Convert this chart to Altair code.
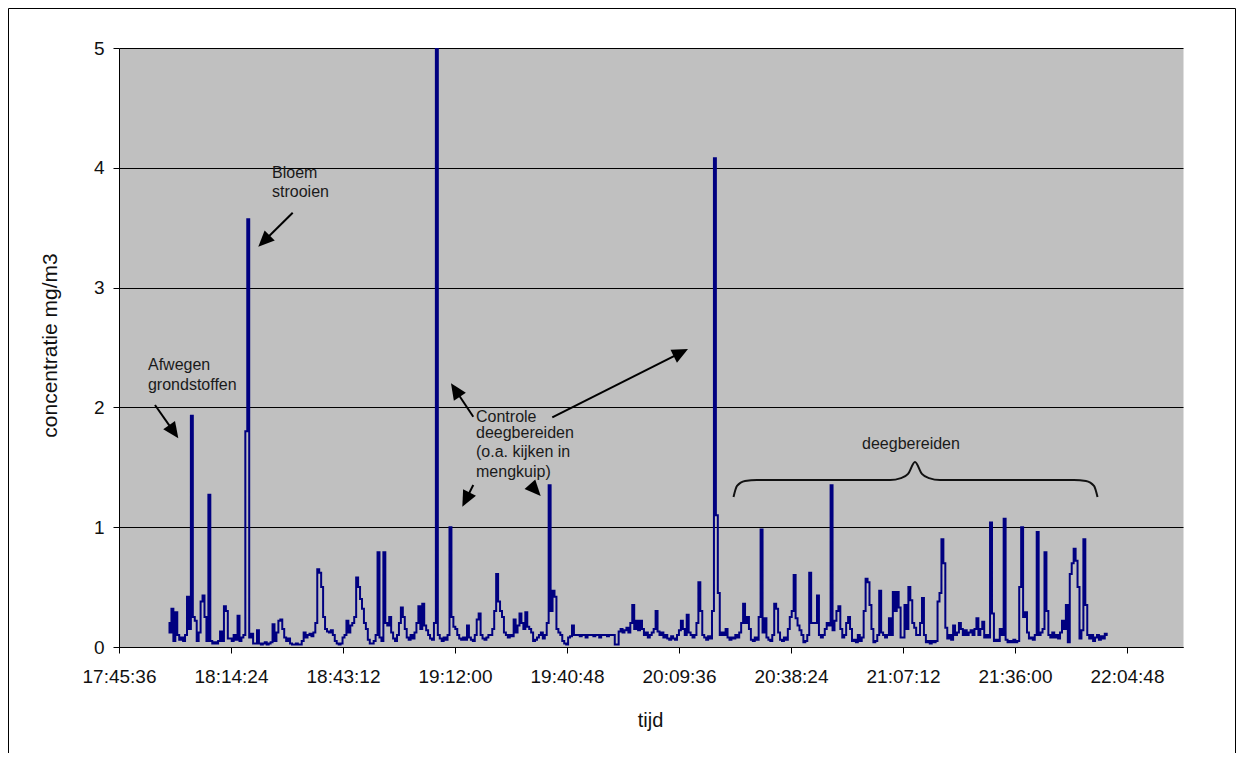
import math
import altair as alt
import pandas as pd

# ---------------- data (concentratie mg/m3, one reading every 30 s) ----------------
SAMPLE_START_S = 17 * 3600 + 58 * 60 + 20   # 17:58:20
SAMPLE_STEP_S = 30

conc_1758 = [0.2, 0.12, 0.32, 0.05, 0.29, 0.1, 0.06, 0.08, 0.05, 0.1, 0.42, 0.15, 1.93, 0.25, 0.22, 0.05, 0.12, 0.38, 0.43, 0.25,
             0.05, 1.27, 0.05, 0.03, 0.04, 0.03, 0.05, 0.13, 0.05, 0.34, 0.3, 0.07, 0.07, 0.05, 0.1, 0.06, 0.26, 0.05, 0.08, 0.1,
             1.8, 3.57, 0.08, 0.11, 0.03, 0.03, 0.14, 0.03, 0.02, 0.03, 0.04, 0.02, 0.03, 0.04, 0.19, 0.05, 0.12, 0.22, 0.23, 0.15,
             0.08, 0.05, 0.07, 0.03, 0.02, 0.02, 0.03, 0.02, 0.02, 0.05, 0.12, 0.08, 0.1, 0.11, 0.09, 0.12, 0.2, 0.65, 0.62, 0.5,
             0.25, 0.15, 0.13, 0.12, 0.14, 0.1, 0.05, 0.03, 0.02, 0.03, 0.08, 0.1, 0.22, 0.12, 0.18, 0.2, 0.25, 0.58, 0.5, 0.4,
             0.32, 0.2, 0.15, 0.06, 0.03, 0.03, 0.05, 0.1, 0.79, 0.08, 0.05, 0.79, 0.2, 0.18, 0.25, 0.12, 0.07, 0.05, 0.1, 0.2]
conc_1858 = [0.33, 0.25, 0.15, 0.08, 0.06, 0.1, 0.07, 0.12, 0.2, 0.34, 0.15, 0.36, 0.18, 0.14, 0.1, 0.07, 0.06, 0.2, 5.0, 0.1,
             0.07, 0.05, 0.08, 0.06, 0.1, 1.0, 0.25, 0.17, 0.15, 0.1, 0.07, 0.06, 0.08, 0.06, 0.18, 0.08, 0.06, 0.05, 0.1, 0.23,
             0.28, 0.1, 0.07, 0.06, 0.08, 0.1, 0.1, 0.15, 0.3, 0.61, 0.38, 0.3, 0.25, 0.12, 0.1, 0.08, 0.1, 0.09, 0.23, 0.12,
             0.18, 0.28, 0.2, 0.15, 0.29, 0.17, 0.15, 0.12, 0.05, 0.06, 0.08, 0.1, 0.12, 0.07, 0.1, 0.2, 1.35, 0.3, 0.47, 0.42,
             0.15, 0.12, 0.1, 0.05, 0.03, 0.02, 0.08, 0.09, 0.18, 0.1, 0.1, 0.1, 0.09, 0.1, 0.1, 0.08, 0.1, 0.1, 0.1, 0.09,
             0.1, 0.1, 0.08, 0.1, 0.1, 0.1, 0.09, 0.1, 0.1, 0.1, 0.02, 0.02, 0.13, 0.15, 0.12, 0.14, 0.16, 0.12, 0.2, 0.35]
conc_1958 = [0.15, 0.22, 0.14, 0.22, 0.15, 0.1, 0.12, 0.08, 0.1, 0.12, 0.15, 0.3, 0.13, 0.1, 0.12, 0.08, 0.1, 0.07, 0.06, 0.09,
             0.07, 0.06, 0.1, 0.14, 0.22, 0.15, 0.1, 0.27, 0.12, 0.1, 0.08, 0.1, 0.2, 0.54, 0.3, 0.1, 0.08, 0.06, 0.09, 0.07,
             0.3, 4.08, 1.1, 0.45, 0.1, 0.12, 0.1, 0.15, 0.08, 0.06, 0.08, 0.07, 0.1, 0.08, 0.12, 0.2, 0.36, 0.2, 0.25, 0.15,
             0.06, 0.05, 0.08, 0.06, 0.25, 0.98, 0.12, 0.24, 0.08, 0.06, 0.05, 0.1, 0.36, 0.32, 0.12, 0.06, 0.05, 0.08, 0.06, 0.15,
             0.25, 0.3, 0.6, 0.24, 0.18, 0.14, 0.1, 0.04, 0.05, 0.1, 0.62, 0.2, 0.2, 0.2, 0.43, 0.1, 0.08, 0.1, 0.15, 0.2,
             0.18, 1.35, 0.14, 0.22, 0.3, 0.34, 0.15, 0.08, 0.1, 0.2, 0.25, 0.15, 0.05, 0.06, 0.04, 0.1, 0.05, 0.08, 0.3, 0.57]
conc_2058 = [0.54, 0.35, 0.15, 0.04, 0.05, 0.1, 0.47, 0.12, 0.1, 0.08, 0.1, 0.24, 0.1, 0.46, 0.3, 0.46, 0.33, 0.08, 0.08, 0.35,
             0.15, 0.5, 0.39, 0.2, 0.16, 0.1, 0.1, 0.2, 0.41, 0.1, 0.04, 0.05, 0.03, 0.05, 0.04, 0.05, 0.38, 0.45, 0.9, 0.7,
             0.16, 0.07, 0.1, 0.06, 0.18, 0.1, 0.12, 0.2, 0.15, 0.1, 0.14, 0.1, 0.12, 0.14, 0.1, 0.15, 0.24, 0.1, 0.15, 0.21,
             0.08, 0.1, 0.08, 1.04, 0.28, 0.05, 0.06, 0.05, 0.15, 0.1, 1.07, 0.06, 0.04, 0.05, 0.04, 0.06, 0.04, 0.05, 0.5, 1.0,
             0.25, 0.29, 0.12, 0.07, 0.08, 0.06, 0.1, 0.96, 0.1, 0.12, 0.15, 0.79, 0.3, 0.1, 0.08, 0.12, 0.08, 0.1, 0.07, 0.12,
             0.22, 0.15, 0.35, 0.04, 0.61, 0.7, 0.82, 0.72, 0.5, 0.07, 0.14, 0.9, 0.35, 0.1, 0.07, 0.1, 0.05, 0.08, 0.1, 0.06,
             0.09, 0.07, 0.11, 0.1]

# axis: 17:45:36 .. 22:19:12, ticks every 28:48
X_MIN_S = 63936
X_MAX_S = 80352
X_TICKS_S = [63936, 65664, 67392, 69120, 70848, 72576, 74304, 76032, 77760, 79488]
Y_TICKS = [0, 1, 2, 3, 4, 5]

# annotations (time in s, concentration)
text_left = [
    ("Bloem", 66297, 3.915), ("strooien", 66297, 3.756),
    ("Afwegen", 64383, 2.316), ("grondstoffen", 64383, 2.149),
    ("Controle", 69444, 1.882), ("deegbereiden", 69444, 1.745),
    ("(o.a. kijken in", 69444, 1.582), ("mengkuip)", 69444, 1.423),
]
text_center = [("deegbereiden", 76155, 1.649)]

# arrows: start (t, v) -> tip (t, v), draw shaft?
arrows = [
    (64491, 2.02, 64851, 1.742, True),
    (66616, 3.625, 66085, 3.341, True),
    (69402, 1.922, 69058, 2.201, True),
    (70621, 1.917, 72715, 2.487, True),
    (69402, 1.352, 69233, 1.171, True),
    (70282, 1.355, 70442, 1.26, False),
]

brace_t = [73417, 73471, 73594, 73779, 75831, 76000, 76110, 76217, 76324, 76434, 76603, 78670, 78855, 78979, 79033]
brace_v = [1.252, 1.344, 1.386, 1.394, 1.394, 1.410, 1.445, 1.544, 1.445, 1.410, 1.394, 1.394, 1.386, 1.344, 1.252]

# ---------------- build ----------------
W, H = 1064, 599
FONT = "Liberation Sans"
values = conc_1758 + conc_1858 + conc_1958 + conc_2058
df = pd.DataFrame({"t": [SAMPLE_START_S + SAMPLE_STEP_S * i for i in range(len(values))], "c": values})

xscale = alt.Scale(domain=[X_MIN_S, X_MAX_S], nice=False, zero=False)
yscale = alt.Scale(domain=[0, 5], nice=False)

px_s = W / (X_MAX_S - X_MIN_S)
px_u = H / 5.0

shafts, heads = [], []
HEAD_LEN = 16
for t0, v0, t1, v1, shaft in arrows:
    dx = (t1 - t0) * px_s
    dy = -(v1 - v0) * px_u
    ang = math.degrees(math.atan2(dx, -dy)) % 360
    heads.append({"t": t1, "v": v1, "a": ang})
    if shaft:
        L = math.hypot(dx, dy)
        k = (L - HEAD_LEN * 0.6) / L
        shafts.append({"t": t0, "v": v0, "t2": t0 + (t1 - t0) * k, "v2": v0 + (v1 - v0) * k})

x_axis = alt.Axis(values=X_TICKS_S, labelExpr="utcFormat(datum.value * 1000, '%H:%M:%S')",
                  title="tijd", grid=False, tickSize=6, tickColor="black", domainColor="black",
                  labelFont=FONT, labelFontSize=19, labelColor="#111111", labelPadding=14,
                  labelFlush=False, labelOverlap=False, labelBound=False,
                  titleFont=FONT, titleFontSize=20, titleFontWeight="normal", titleColor="#111111",
                  titleX=531, titleY=73, titleBaseline="middle")
y_axis = alt.Axis(values=Y_TICKS, format="d", title="concentratie mg/m3", grid=True,
                  gridColor="black", gridOpacity=1, gridWidth=1, tickSize=6, tickColor="black",
                  domainColor="black", labelFont=FONT, labelFontSize=19, labelColor="#111111",
                  labelPadding=9, titleFont=FONT, titleFontSize=21, titleFontWeight="normal",
                  titleColor="#111111", titleX=-69, titleY=297, titleAngle=270,
                  titleAlign="center", titleBaseline="middle")

line = alt.Chart(df).mark_line(color="#000080", strokeWidth=2, interpolate="step", clip=True).encode(
    x=alt.X("t:Q", scale=xscale, axis=x_axis),
    y=alt.Y("c:Q", scale=yscale, axis=y_axis),
)

shaft_layer = alt.Chart(pd.DataFrame(shafts)).mark_rule(color="black", strokeWidth=2).encode(
    x="t:Q", y="v:Q", x2="t2:Q", y2="v2:Q")

head_layer = alt.Chart(pd.DataFrame(heads)).mark_point(
    shape="M0,0L-0.45,1L0.45,1Z", filled=True, color="black", opacity=1, size=1024
).encode(x="t:Q", y="v:Q", angle=alt.Angle("a:Q", scale=None))

tl = pd.DataFrame(text_left, columns=["label", "t", "v"])
text_l = alt.Chart(tl).mark_text(align="left", baseline="alphabetic", font=FONT, fontSize=16,
                                  color="#1a1a1a").encode(x="t:Q", y="v:Q", text="label:N")
tc = pd.DataFrame(text_center, columns=["label", "t", "v"])
text_c = alt.Chart(tc).mark_text(align="center", baseline="alphabetic", font=FONT, fontSize=16,
                                  color="#1a1a1a").encode(x="t:Q", y="v:Q", text="label:N")

brace = alt.Chart(pd.DataFrame({"t": brace_t, "v": brace_v})).mark_line(
    color="#111111", strokeWidth=2, interpolate="monotone").encode(x="t:Q", y="v:Q")

border = alt.Chart(alt.Data(values=[{"k": 1}])).mark_rect(
    fill="transparent", stroke="black", strokeWidth=1, clip=False
).encode(x=alt.value(-110.5), x2=alt.value(1116.5), y=alt.value(-39.5), y2=alt.value(760))

chart = alt.layer(line, shaft_layer, head_layer, text_l, text_c, brace, border).properties(
    width=W, height=H,
    autosize=alt.AutoSizeParams(type="none"),
    padding={"left": 111, "top": 40, "right": 53, "bottom": 106},
    background="white",
).configure_view(fill="#C0C0C0", stroke="transparent")

chart.save("out.html", embed_options={"renderer": "svg", "actions": False})
